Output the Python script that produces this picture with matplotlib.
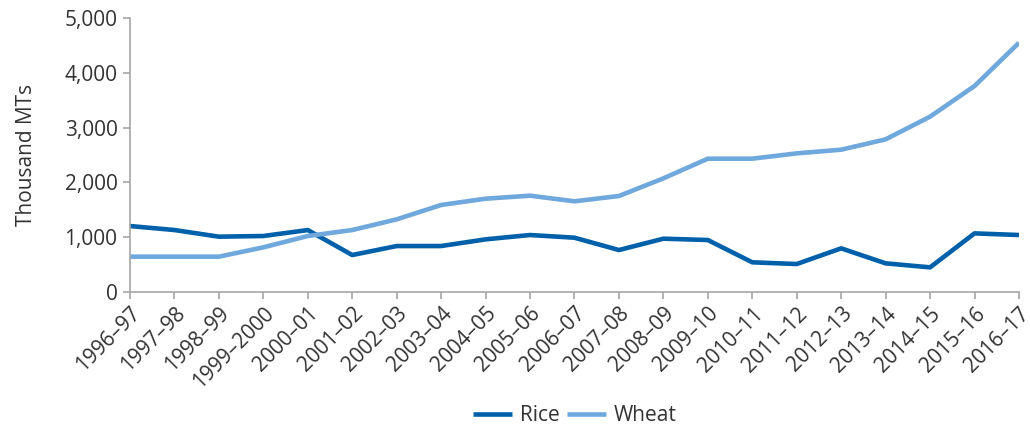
import matplotlib
matplotlib.use("Agg")
import matplotlib.pyplot as plt
from matplotlib.ticker import FuncFormatter

seasons = ["1996–97", "1997–98", "1998–99", "1999–2000", "2000–01", "2001–02",
           "2002–03", "2003–04", "2004–05", "2005–06", "2006–07", "2007–08",
           "2008–09", "2009–10", "2010–11", "2011–12", "2012–13", "2013–14",
           "2014–15", "2015–16", "2016–17"]
rice = [1204, 1131, 1010, 1022, 1131, 675, 839, 839, 961, 1040, 991, 766,
        973, 949, 542, 511, 797, 523, 450, 1070, 1040]
wheat = [645, 645, 645, 815, 1022, 1131, 1326, 1588, 1703, 1758, 1655, 1752,
         2074, 2433, 2433, 2530, 2597, 2786, 3200, 3759, 4549]

plt.rcParams['font.family'] = ['Open Sans', 'DejaVu Sans']
text_col = '#333333'
axis_col = '#a6a6a6'
fs = 15

fig = plt.figure(figsize=(10.3, 4.3), dpi=100)
ax = fig.add_axes([0.1262, 0.3209, 0.8631, 0.6372])

x = range(len(seasons))
ax.plot(x, rice, color='#0060a9', lw=3.3, label='Rice', solid_capstyle='butt')
ax.plot(x, wheat, color='#6fa8dc', lw=3.3, label='Wheat', solid_capstyle='butt')

ax.set_xlim(0, len(seasons) - 1)
ax.set_ylim(0, 5000)
ax.set_yticks(range(0, 5001, 1000))
ax.yaxis.set_major_formatter(FuncFormatter(lambda v, p: f"{int(v):,}"))
ax.set_xticks(list(x))
ax.set_xticklabels(seasons, rotation=45, ha='right', rotation_mode='anchor')

for s in ['top', 'right']:
    ax.spines[s].set_visible(False)
for s in ['left', 'bottom']:
    ax.spines[s].set_color(axis_col)
    ax.spines[s].set_linewidth(1.2)
ax.tick_params(axis='both', colors=axis_col, length=5, width=1.2,
               labelcolor=text_col, labelsize=fs)
ax.tick_params(axis='x', pad=3)
ax.tick_params(axis='y', pad=4)
ax.set_ylabel('Thousand MTs', fontsize=fs, color=text_col, labelpad=20)

fig.legend(loc='lower center', bbox_to_anchor=(0.558, -0.035), ncol=2,
           frameon=False, fontsize=fs, handlelength=1.9, columnspacing=0.35,
           handletextpad=0.35, labelcolor=text_col)

fig.savefig('out.png', dpi=100)
